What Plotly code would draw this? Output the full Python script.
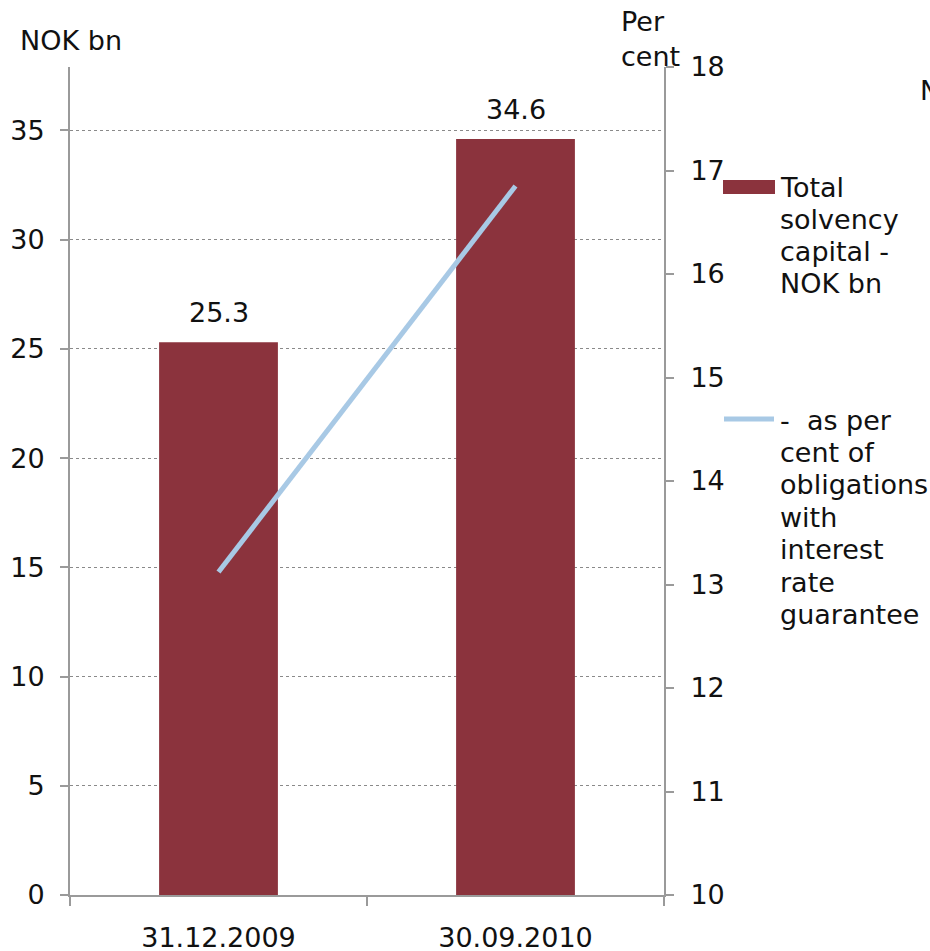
import plotly.graph_objects as go

# Data
dates = ["31.12.2009", "30.09.2010"]
solvency_capital_bn = [25.3, 34.6]          # NOK bn, left axis
pct_of_obligations = [13.12, 16.85]          # per cent, right axis
left_ticks = [0, 5, 10, 15, 20, 25, 30, 35]
right_ticks = [10, 11, 12, 13, 14, 15, 16, 17, 18]
legend_bar_lines = ["Total", "solvency", "capital -", "NOK bn"]
legend_line_lines = ["-  as per", "cent of", "obligations", "with", "interest", "rate", "guarantee"]

FONT = "DejaVu Sans"
FS = 27
BAR_COLOR = "#8B333D"
LINE_COLOR = "#A8C9E5"
AXIS_COLOR = "#9A9A9A"
TXT = "#111"

# Plot area in pixels
L, R, T, B = 70, 664, 67, 895
W, H = R - L, B - T


def px(x):
    return (x - L) / W


def py(y):
    return (B - y) / H


fig = go.Figure()

fig.add_trace(go.Bar(
    x=dates, y=solvency_capital_bn, width=0.4,
    marker=dict(color=BAR_COLOR, line=dict(width=0)),
    showlegend=False, yaxis="y",
))

# Value labels above the bars
for d, v in zip(dates, solvency_capital_bn):
    fig.add_annotation(x=d, y=v, xref="x", yref="y", text=f"{v:.1f}",
                       showarrow=False, yanchor="bottom", yshift=12,
                       font=dict(family=FONT, size=FS, color=TXT))

fig.add_trace(go.Scatter(
    x=dates, y=pct_of_obligations, mode="lines",
    line=dict(color=LINE_COLOR, width=5),
    showlegend=False, yaxis="y2",
))

fig.update_layout(
    width=930, height=951,
    margin=dict(l=L, r=930 - R, t=T, b=951 - B, autoexpand=False),
    paper_bgcolor="white", plot_bgcolor="white",
    font=dict(family=FONT, size=FS, color=TXT),
    xaxis=dict(
        type="category", range=[-0.5, 1.5], automargin=False,
        showline=True, linecolor=AXIS_COLOR, linewidth=2,
        ticks="outside", tickson="boundaries", ticklen=9, tickcolor=AXIS_COLOR, tickwidth=2,
        showgrid=False, ticklabelstandoff=18,
        tickfont=dict(family=FONT, size=FS, color=TXT),
    ),
    yaxis=dict(
        range=[0, 37.9], tickvals=left_ticks, automargin=False,
        showline=True, linecolor=AXIS_COLOR, linewidth=2,
        ticks="outside", ticklen=8, tickcolor=AXIS_COLOR, tickwidth=2,
        showgrid=True, gridcolor="#8A8A8A", gridwidth=1, griddash="dot",
        zeroline=False, ticklabelstandoff=10,
        tickfont=dict(family=FONT, size=FS, color=TXT),
    ),
    yaxis2=dict(
        range=[10, 18], tickvals=right_ticks, overlaying="y", side="right",
        automargin=False,
        showline=True, linecolor=AXIS_COLOR, linewidth=2,
        ticks="outside", ticklen=8, tickcolor=AXIS_COLOR, tickwidth=2,
        showgrid=False, zeroline=False, ticklabelstandoff=11,
        tickfont=dict(family=FONT, size=FS, color=TXT),
    ),
)

# Axis unit labels
fig.add_annotation(xref="paper", yref="paper", x=px(18), y=py(40),
                   text="NOK bn", showarrow=False, xanchor="left", yanchor="middle",
                   font=dict(family=FONT, size=FS, color=TXT))
for i, word in enumerate(["Per", "cent"]):
    fig.add_annotation(xref="paper", yref="paper", x=px(619), y=py(22 + 35 * i),
                       text=word, showarrow=False, xanchor="left", yanchor="middle",
                       font=dict(family=FONT, size=FS, color=TXT))

# Legend drawn beside the plot
fig.add_shape(type="rect", xref="paper", yref="paper",
              x0=px(723), x1=px(775), y0=py(194), y1=py(180),
              fillcolor=BAR_COLOR, line=dict(width=0))
for i, s in enumerate(legend_bar_lines):
    fig.add_annotation(xref="paper", yref="paper", x=px(778), y=py(187 + 32.2 * i),
                       text=s, showarrow=False, xanchor="left", yanchor="middle",
                       font=dict(family=FONT, size=FS, color=TXT))

fig.add_shape(type="line", xref="paper", yref="paper",
              x0=px(724), x1=px(774), y0=py(419), y1=py(419),
              line=dict(color=LINE_COLOR, width=5))
for i, s in enumerate(legend_line_lines):
    fig.add_annotation(xref="paper", yref="paper", x=px(778), y=py(420 + 32.4 * i),
                       text=s, showarrow=False, xanchor="left", yanchor="middle",
                       font=dict(family=FONT, size=FS, color=TXT))

# Edge of neighbouring panel title
fig.add_annotation(xref="paper", yref="paper", x=px(918), y=py(90),
                   text="NOK bn", showarrow=False, xanchor="left", yanchor="middle",
                   font=dict(family=FONT, size=FS, color=TXT))

fig.write_html("out.html")
